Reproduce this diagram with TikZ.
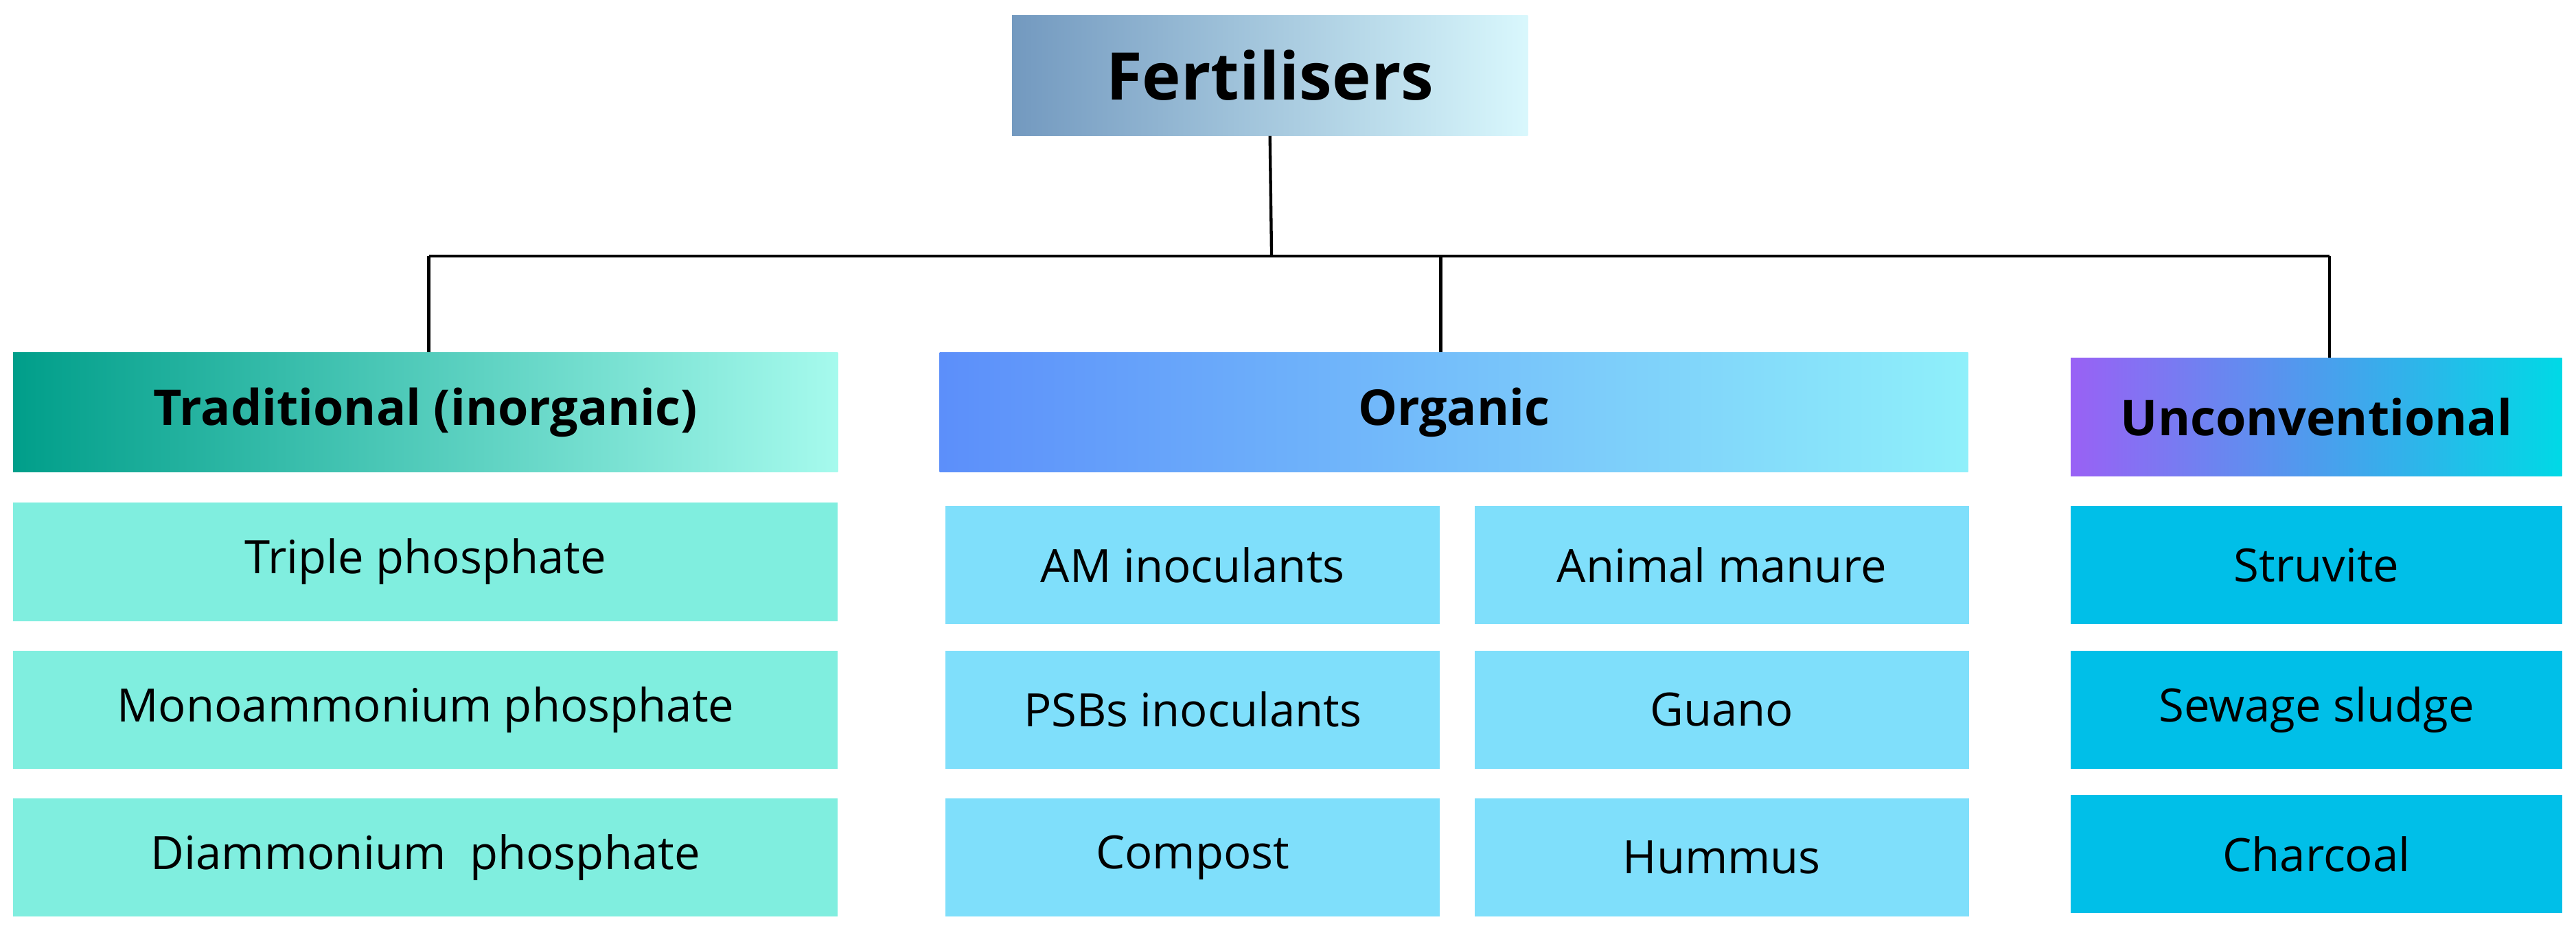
\documentclass[tikz,border=0pt]{standalone}
\usepackage{fontspec}
\setmainfont{Open Sans}
\definecolor{fL}{rgb}{0.45,0.6,0.75}
\definecolor{fR}{rgb}{0.85,0.97,0.99}
\definecolor{tL}{rgb}{0,0.62,0.54}
\definecolor{tM}{rgb}{0,0.8,0.75}
\definecolor{tR}{rgb}{0.65,0.98,0.93}
\definecolor{oL}{rgb}{0.36,0.56,0.98}
\definecolor{oR}{rgb}{0.56,0.94,0.98}
\definecolor{uL}{rgb}{0.6,0.38,0.96}
\definecolor{uM}{rgb}{0.0,0.66,0.94}
\definecolor{uR}{rgb}{0.0,0.85,0.9}
\definecolor{tI}{RGB}{128,238,223}
\definecolor{oI}{RGB}{127,223,251}
\definecolor{uI}{RGB}{0,191,232}
\begin{document}
\begin{tikzpicture}[x=1pt,y=-1pt,
  bx/.style={inner sep=0pt, font=\fontsize{28}{32}\selectfont},
  hd/.style={inner sep=0pt, font=\fontsize{30}{34}\selectfont\bfseries},
  ln/.style={line width=1.8pt, black}]
\useasboundingbox (0,0) rectangle (1568,569);
\node[hd, minimum width=314pt, minimum height=73pt, font=\fontsize{40}{44}\selectfont\bfseries,
  left color=fL, right color=fR] (F) at (773,46) {Fertilisers};
\node[hd, minimum width=502pt, minimum height=73pt,
  left color=tL, middle color=tM, right color=tR] (T) at (259,251) {Traditional (inorganic)};
\node[hd, minimum width=626pt, minimum height=73pt,
  left color=oL, right color=oR] (O) at (885,251) {Organic};
\node[hd, minimum width=299pt, minimum height=72pt,
  left color=uL, middle color=uM, right color=uR] (U) at (1410,254) {Unconventional};
\foreach \n/\y/\t in {t1/342/Triple phosphate, t2/432/Monoammonium phosphate, t3/522/Diammonium\ \ phosphate}
  \node[bx, fill=tI, minimum width=502pt, minimum height=72pt] (\n) at (259,\y) {\t};
\foreach \n/\x/\y/\t in {o1/726/344/AM inoculants, o2/726/432/PSBs inoculants, o3/726/522/Compost,
  o4/1048/344/Animal manure, o5/1048/432/Guano, o6/1048/522/Hummus}
  \node[bx, fill=oI, minimum width=301pt, minimum height=72pt] (\n) at (\x,\y) {\t};
\foreach \n/\y/\t in {u1/344/Struvite, u2/432/Sewage sludge, u3/520/Charcoal}
  \node[bx, fill=uI, minimum width=299pt, minimum height=72pt] (\n) at (1410,\y) {\t};
\coordinate (h) at (774,156);
\coordinate (hl) at (261,156);
\coordinate (hr) at (1418,156);
\coordinate (hm) at (877,156);
\draw[ln] (F.south) -- (h);
\draw[ln] (hl) -- (hr);
\draw[ln] (hl) -- (hl |- T.north);
\draw[ln] (hm) -- (hm |- O.north);
\draw[ln] (hr) -- (hr |- U.north);
\end{tikzpicture}
\end{document}
